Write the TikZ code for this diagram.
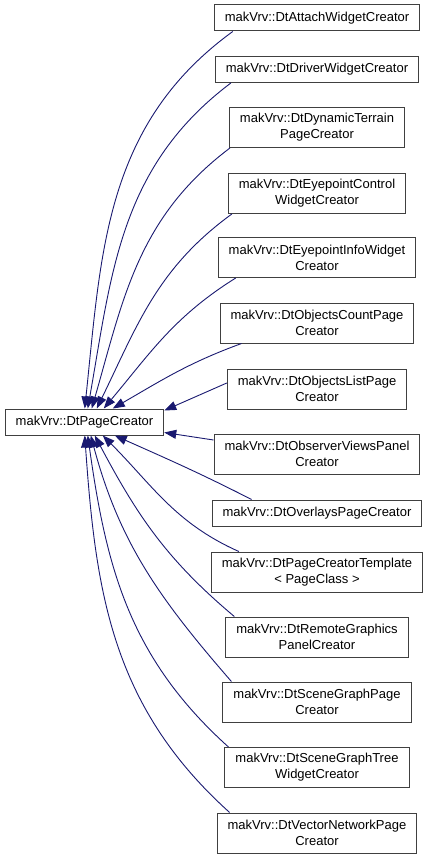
\documentclass[tikz,border=0pt]{standalone}
\usepackage{fontspec}
\setmainfont{Liberation Sans}
\usetikzlibrary{arrows.meta}
\definecolor{edgeblue}{HTML}{191970}
\definecolor{boxgray}{HTML}{404040}
\begin{document}
\begin{tikzpicture}[x=1pt,y=1pt,
        cls/.style={rectangle,draw=boxgray,line width=1pt,fill=white,
            font=\fontsize{13pt}{16pt}\selectfont,align=center,
            inner xsep=10.5pt,inner ysep=4pt,minimum height=26pt},
        cls2/.style={cls,minimum height=40pt},
        inherit/.style={draw=edgeblue,line width=0.9pt,
            -{Triangle[length=12pt,width=9pt]}}]
        \useasboundingbox (0,0) rectangle (428,-859);
        \node at (84.5,-422) [cls] (base) {makVrv::DtPageCreator};
        \node at (317,-18) [cls] (attach) {makVrv::DtAttachWidgetCreator};
        \node at (317,-69.5) [cls] (driver) {makVrv::DtDriverWidgetCreator};
        \node at (317,-127.5) [cls2] (terrain) {makVrv::DtDynamicTerrain\\PageCreator};
        \node at (317,-193.5) [cls2] (eyectl) {makVrv::DtEyepointControl\\WidgetCreator};
        \node at (317,-257.5) [cls2] (eyeinfo) {makVrv::DtEyepointInfoWidget\\Creator};
        \node at (317,-323) [cls2] (objcount) {makVrv::DtObjectsCountPage\\Creator};
        \node at (317,-389) [cls2] (objlist) {makVrv::DtObjectsListPage\\Creator};
        \node at (317,-454) [cls2] (observer) {makVrv::DtObserverViewsPanel\\Creator};
        \node at (317,-513) [cls] (overlays) {makVrv::DtOverlaysPageCreator};
        \node at (317,-572) [cls2] (template) {makVrv::DtPageCreatorTemplate\\< PageClass >};
        \node at (317,-637) [cls2] (remote) {makVrv::DtRemoteGraphics\\PanelCreator};
        \node at (317,-702) [cls2] (scenepage) {makVrv::DtSceneGraphPage\\Creator};
        \node at (317,-767.5) [cls2] (scenetree) {makVrv::DtSceneGraphTree\\WidgetCreator};
        \node at (317,-833) [cls2] (vecnet) {makVrv::DtVectorNetworkPage\\Creator};
        % edges into the top of the base class
        \draw[inherit] ([xshift=19pt]attach.south west) to[out=216,in=84] ([xshift=80pt]base.north west);
        \draw[inherit] ([xshift=16pt]driver.south west) to[out=217,in=80] ([xshift=83pt]base.north west);
        \draw[inherit] ([xshift=1pt]terrain.south west) to[out=217,in=74] ([xshift=87pt]base.north west);
        \draw[inherit] ([xshift=4pt]eyectl.south west) to[out=216,in=64] ([xshift=92pt]base.north west);
        \draw[inherit] ([xshift=18pt]eyeinfo.south west) to[out=212,in=50] ([xshift=99pt]base.north west);
        \draw[inherit] ([xshift=22pt]objcount.south west) to[out=200,in=30] ([xshift=108pt]base.north west);
        % edges into the side
        \draw[inherit] ([yshift=6pt]objlist.west) -- ([yshift=-2pt]base.north east);
        \draw[inherit] ([yshift=14pt]observer.west) -- ([yshift=3pt]base.south east);
        % edges into the bottom
        \draw[inherit] ([xshift=40pt]overlays.north west) to[out=153,in=336] ([xshift=110pt]base.south west);
        \draw[inherit] ([xshift=28pt]template.north west) to[out=156,in=315] ([xshift=98pt]base.south west);
        \draw[inherit] ([xshift=9pt]remote.north west) to[out=140,in=298] ([xshift=90pt]base.south west);
        \draw[inherit] ([xshift=9pt]scenepage.north west) to[out=131,in=285] ([xshift=86pt]base.south west);
        \draw[inherit] ([xshift=4pt]scenetree.north west) to[out=138,in=278] ([xshift=83pt]base.south west);
        \draw[inherit] ([xshift=13pt]vecnet.north west) to[out=138,in=274] ([xshift=80pt]base.south west);
\end{tikzpicture}
\end{document}
